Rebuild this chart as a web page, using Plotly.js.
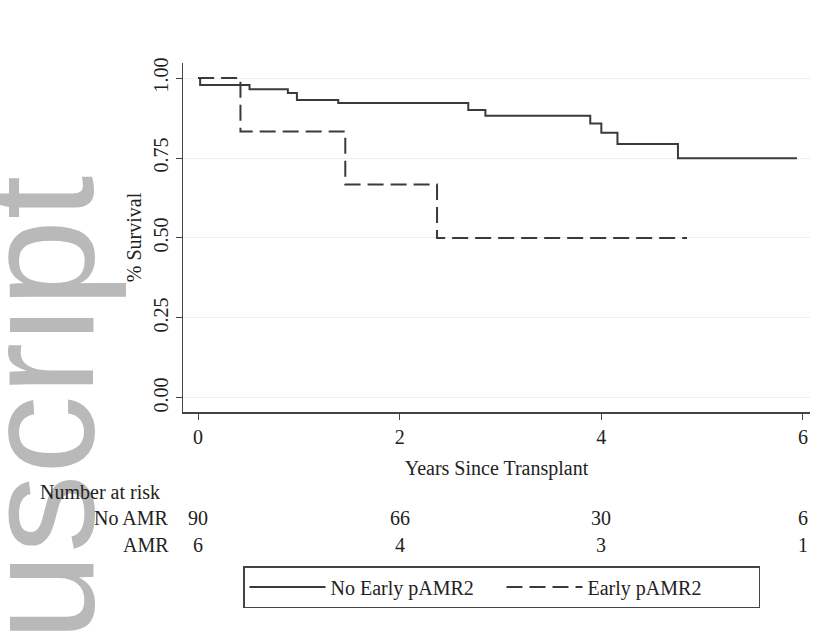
<!DOCTYPE html>
<html>
<head>
<meta charset="utf-8">
<script src="https://cdn.plot.ly/plotly-3.0.1.min.js"></script>
<style>html,body{margin:0;padding:0;background:#fff;}#chart{width:829px;height:634px;}</style>
</head>
<body>
<div id="chart"></div>
<script>
// Kaplan-Meier step data
const noEarlyTimes = [0, 0.02, 0.51, 0.89, 0.98, 1.39, 2.68, 2.85, 3.89, 4.0, 4.16, 4.76, 5.94];
const noEarlySurv  = [1.0, 0.978, 0.965, 0.953, 0.931, 0.922, 0.900, 0.882, 0.858, 0.829, 0.794, 0.749, 0.749];
const earlyTimes = [0, 0.42, 1.46, 2.37, 4.85];
const earlySurv  = [1.0, 0.833, 0.667, 0.5, 0.5];

const seriesNames = ["No Early pAMR2", "Early pAMR2"];
const xTicks = [0, 2, 4, 6];
const yTicks = [0, 0.25, 0.5, 0.75, 1.0];
const yTickText = ["0.00", "0.25", "0.50", "0.75", "1.00"];

const riskTimes = [0, 2, 4, 6];
const riskNoAMR = [90, 66, 30, 6];
const riskAMR = [6, 4, 3, 1];
const riskGroups = ["No AMR", "AMR"];

const FONT = "Liberation Serif, Times New Roman, serif";
const INK = "#3a3a3a";

const traces = [
  {x: noEarlyTimes, y: noEarlySurv, name: seriesNames[0], mode: "lines",
   line: {shape: "hv", color: INK, width: 2}},
  {x: earlyTimes, y: earlySurv, name: seriesNames[1], mode: "lines",
   line: {shape: "hv", color: INK, width: 2, dash: "16px,7px"}}
];

// paper coordinate helpers from pixel positions (plot area: x 183..810, y 63..412)
const L = 183, R = 19, T = 63, B = 222, W = 829, H = 634;
const pw = W - L - R, ph = H - T - B;
const px = v => (v - L) / pw;
const py = v => (H - B - v) / ph;

const annotations = [];
// watermark (drawn first, underneath)
annotations.push({text: "uscript", xref: "paper", yref: "paper", x: px(128), y: py(409),
  xanchor: "right", yanchor: "middle", textangle: -90, showarrow: false,
  font: {family: "Liberation Sans, Arial, sans-serif", size: 158, color: "#b9b9b9"}});
annotations.push({text: "Number at risk", xref: "paper", yref: "paper", x: px(38), y: py(492),
  xanchor: "left", yanchor: "middle", showarrow: false, font: {family: FONT, size: 20, color: "#222"}});
const riskRows = [riskNoAMR, riskAMR];
const rowY = [518, 545];
riskGroups.forEach((g, i) => {
  annotations.push({text: g, xref: "paper", yref: "paper", x: px(171), y: py(rowY[i]),
    xanchor: "right", yanchor: "middle", showarrow: false, font: {family: FONT, size: 20, color: "#222"}});
  riskTimes.forEach((t, j) => {
    annotations.push({text: String(riskRows[i][j]), xref: "x", yref: "paper", x: t, y: py(rowY[i]),
      xanchor: "center", yanchor: "middle", showarrow: false, font: {family: FONT, size: 20, color: "#222"}});
  });
});

const layout = {
  width: W, height: H,
  margin: {l: L, r: R, t: T, b: B, pad: 0, autoexpand: false},
  paper_bgcolor: "#ffffff", plot_bgcolor: "#ffffff",
  font: {family: FONT, size: 20, color: "#222"},
  showlegend: true,
  legend: {orientation: "h", x: px(243), xanchor: "left", y: py(566), yanchor: "top",
    bordercolor: "#444", borderwidth: 1.5, bgcolor: "#fff",
    font: {family: FONT, size: 20, color: "#222"}, entrywidth: 166, itemwidth: 76,
    tracegroupgap: 0},
  xaxis: {range: [-0.15, 6.07], tickvals: xTicks, ticks: "outside", ticklen: 6, tickcolor: "#444",
    showline: true, linecolor: "#444", linewidth: 1.5, showgrid: false, zeroline: false,
    title: {text: "Years Since Transplant", standoff: 14, font: {family: FONT, size: 20}}},
  yaxis: {range: [-0.044, 1.047], tickvals: yTicks, ticktext: yTickText, tickangle: -90,
    ticks: "outside", ticklen: 6, tickcolor: "#444",
    showline: true, linecolor: "#444", linewidth: 1.5, showgrid: true, gridcolor: "#efefef", gridwidth: 1,
    zeroline: false,
    title: {text: "% Survival", standoff: 2, font: {family: FONT, size: 20}}},
  annotations: annotations
};

Plotly.newPlot("chart", traces, layout, {displayModeBar: false, staticPlot: true});
</script>
</body>
</html>
